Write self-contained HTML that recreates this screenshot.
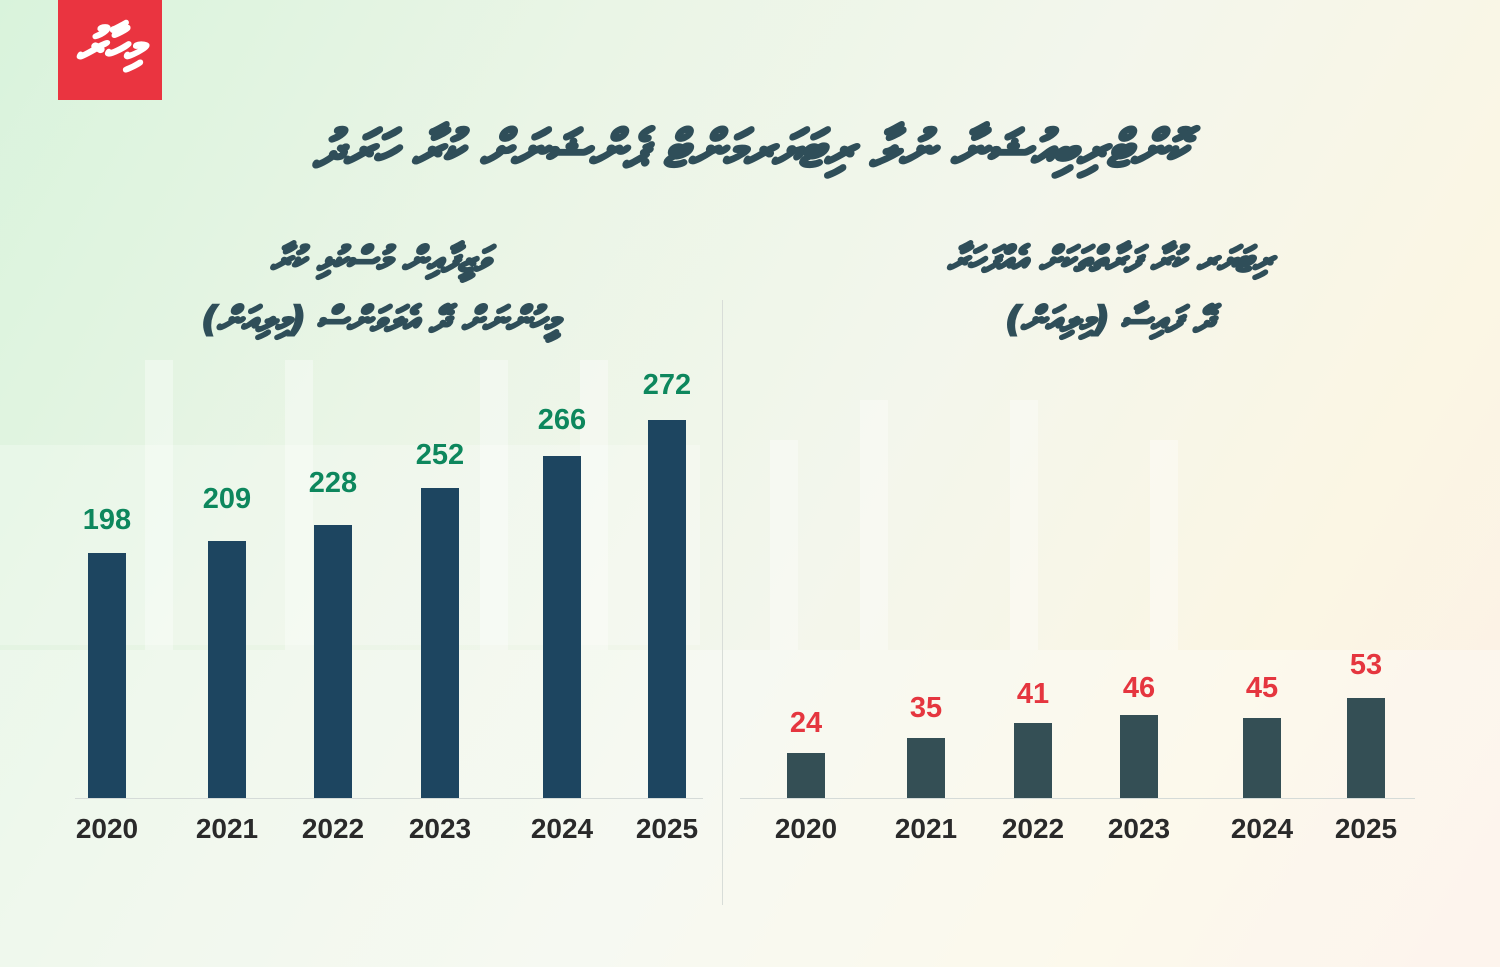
<!DOCTYPE html>
<html><head><meta charset="utf-8"><style>
html,body{margin:0;padding:0}
body{width:1500px;height:967px;position:relative;overflow:hidden;font-family:"Liberation Sans",Arial,sans-serif;
background:linear-gradient(120deg,#d9f3dc 0%,#eaf5e6 30%,#f3f6ec 55%,#fbf6e4 80%,#fcefe6 100%);}
.ab{position:absolute}
.bgbar{position:absolute;background:rgba(255,255,255,0.35)}
.thaana{font-family:"DejaVu Sans","Noto Sans CJK SC",sans-serif;font-weight:bold;color:#2f4e59;direction:rtl;text-align:center;font-style:italic;-webkit-text-stroke:2.5px #2f4e59}
.bar{position:absolute;bottom:169px;width:38px}
.l{background:#1d4560}
.r{background:#344f55}
.val{position:absolute;width:100px;margin-left:-50px;text-align:center;font-weight:bold;font-size:29px}
.g{color:#0d875d}
.red{color:#e5363f}
.yr{position:absolute;top:813px;width:100px;margin-left:-50px;text-align:center;font-weight:bold;font-size:28px;color:#2a2a2a}
</style></head><body>
<div class="bgbar" style="left:0;top:445px;width:700px;height:200px;background:rgba(255,255,255,0.25)"></div>
<div class="bgbar" style="left:145px;top:360px;width:28px;height:290px"></div>
<div class="bgbar" style="left:285px;top:360px;width:28px;height:290px"></div>
<div class="bgbar" style="left:480px;top:360px;width:28px;height:290px"></div>
<div class="bgbar" style="left:580px;top:360px;width:28px;height:290px"></div>
<div class="bgbar" style="left:770px;top:440px;width:28px;height:210px"></div>
<div class="bgbar" style="left:860px;top:400px;width:28px;height:250px"></div>
<div class="bgbar" style="left:1010px;top:400px;width:28px;height:250px"></div>
<div class="bgbar" style="left:1150px;top:440px;width:28px;height:210px"></div>
<div class="bgbar" style="left:0;top:650px;width:1500px;height:317px;background:rgba(255,255,255,0.3)"></div>

<div class="ab" style="left:58px;top:0;width:104px;height:100px;background:#ea3440"></div>
<div class="ab" style="left:58px;top:18px;width:104px;text-align:center;color:#fff;font-family:'DejaVu Sans',sans-serif;font-weight:bold;font-size:46px;font-style:italic;-webkit-text-stroke:2px #fff">މިހާރު</div>

<div class="ab thaana" style="left:150px;top:120px;width:1200px;font-size:50px">ކޮންޓްރިބިއުޝަނާ ނުލާ ރިޓަޔަރމަންޓް ޕެންޝަނަށް ކުރާ ހަރަދު</div>
<div class="ab thaana" style="left:80px;top:230px;width:600px;font-size:34px;line-height:60px">ވަޒީފާއިން މުސްކުޅި ކުރާ<br>މީހުންނަށް ދޭ އެލަވަންސް (މިލިއަން)</div>
<div class="ab thaana" style="left:830px;top:230px;width:560px;font-size:34px;line-height:60px">ރިޓަޔަރ ކުރާ ފަރާތްތަކަށް އެއްފަހަރާ<br>ދޭ ފައިސާ (މިލިއަން)</div>

<div class="ab" style="left:722px;top:300px;width:1px;height:605px;background:#d8ddd8"></div>
<div class="ab" style="left:75px;top:798px;width:628px;height:1px;background:#d5dbd8"></div>
<div class="ab" style="left:740px;top:798px;width:675px;height:1px;background:#d5dbd8"></div>

<div class="bar l" style="left:88px;height:245px"></div>
<div class="bar l" style="left:208px;height:257px"></div>
<div class="bar l" style="left:314px;height:273px"></div>
<div class="bar l" style="left:421px;height:310px"></div>
<div class="bar l" style="left:543px;height:342px"></div>
<div class="bar l" style="left:648px;height:378px"></div>

<div class="val g" style="left:107px;top:504px">198</div>
<div class="val g" style="left:227px;top:483px">209</div>
<div class="val g" style="left:333px;top:467px">228</div>
<div class="val g" style="left:440px;top:439px">252</div>
<div class="val g" style="left:562px;top:404px">266</div>
<div class="val g" style="left:667px;top:369px">272</div>

<div class="bar r" style="left:787px;height:45px"></div>
<div class="bar r" style="left:907px;height:60px"></div>
<div class="bar r" style="left:1014px;height:75px"></div>
<div class="bar r" style="left:1120px;height:83px"></div>
<div class="bar r" style="left:1243px;height:80px"></div>
<div class="bar r" style="left:1347px;height:100px"></div>

<div class="val red" style="left:806px;top:707px">24</div>
<div class="val red" style="left:926px;top:692px">35</div>
<div class="val red" style="left:1033px;top:678px">41</div>
<div class="val red" style="left:1139px;top:672px">46</div>
<div class="val red" style="left:1262px;top:672px">45</div>
<div class="val red" style="left:1366px;top:649px">53</div>

<div class="yr" style="left:107px">2020</div>
<div class="yr" style="left:227px">2021</div>
<div class="yr" style="left:333px">2022</div>
<div class="yr" style="left:440px">2023</div>
<div class="yr" style="left:562px">2024</div>
<div class="yr" style="left:667px">2025</div>
<div class="yr" style="left:806px">2020</div>
<div class="yr" style="left:926px">2021</div>
<div class="yr" style="left:1033px">2022</div>
<div class="yr" style="left:1139px">2023</div>
<div class="yr" style="left:1262px">2024</div>
<div class="yr" style="left:1366px">2025</div>
</body></html>
